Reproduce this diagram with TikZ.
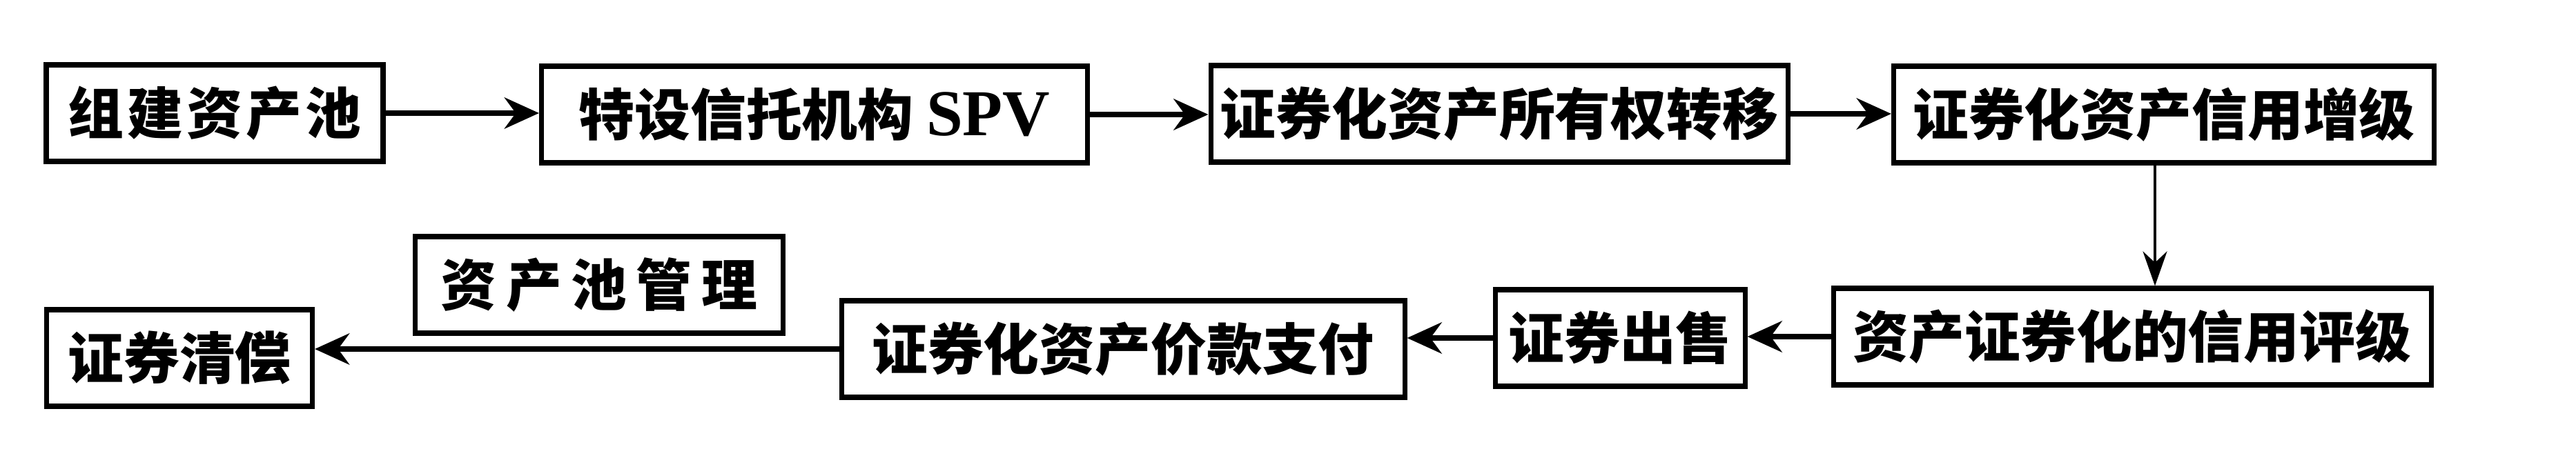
\documentclass[tikz,border=0pt]{standalone}
\usepackage{fontspec}
\newfontfamily\cjkfont{Noto Sans CJK SC}
\newfontfamily\latfont{Liberation Serif}
\usetikzlibrary{arrows.meta}

\begin{document}
\begin{tikzpicture}[
  font=\cjkfont\bfseries\fontsize{23}{27}\selectfont,
  >={Stealth[length=5mm,width=4.5mm]},
  stage/.style={draw, line width=2pt, minimum height=14mm, inner sep=0pt, align=center},
  flow/.style={->, line width=2.4pt},
  drop/.style={->, line width=1.2pt, >={Stealth[length=5mm,width=3.5mm]}},
]
\useasboundingbox (0,0) rectangle (37.32,6.64);

% upper row
\node[stage, minimum width=4.88cm] (pool) at (3.11,5.00) {组\kern1.5pt 建\kern1.5pt 资\kern1.5pt 产\kern1.5pt 池};
\node[stage, minimum width=7.91cm] (spv) at (11.80,4.98) {特设信托机构 {\latfont\fontsize{27}{30}\selectfont SPV}};
\node[stage, minimum width=8.36cm] (transfer) at (21.72,4.99) {证券化资产所有权转移};
\node[stage, minimum width=7.83cm] (enhance) at (31.35,4.98) {证券化资产信用增级};

% lower row
\node[stage, minimum width=8.66cm] (rating) at (30.89,1.76) {资产证券化的信用评级};
\node[stage, minimum width=3.62cm] (sale) at (23.47,1.74) {证券出售};
\node[stage, minimum width=8.16cm] (payment) at (16.27,1.58) {证券化资产价款支付};
\node[stage, minimum width=3.85cm] (repay) at (2.60,1.45) {证券清偿};
\node[stage, minimum width=5.33cm] (manage) at (8.68,2.51) {资\,产\,池\,管\,理};

\draw[flow] (pool.east) -- (pool.east -| spv.west);
\draw[flow] (spv.east) -- (spv.east -| transfer.west);
\draw[flow] (transfer.east) -- (transfer.east -| enhance.west);
\draw[drop] ([xshift=-1.3mm]enhance.south) -- ([xshift=-1.3mm]enhance.south |- rating.north);
\draw[flow] (rating.west) -- (rating.west -| sale.east);
\draw[flow] (sale.west) -- (sale.west -| payment.east);
\draw[flow] (payment.west) -- (payment.west -| repay.east);

\end{tikzpicture}
\end{document}
